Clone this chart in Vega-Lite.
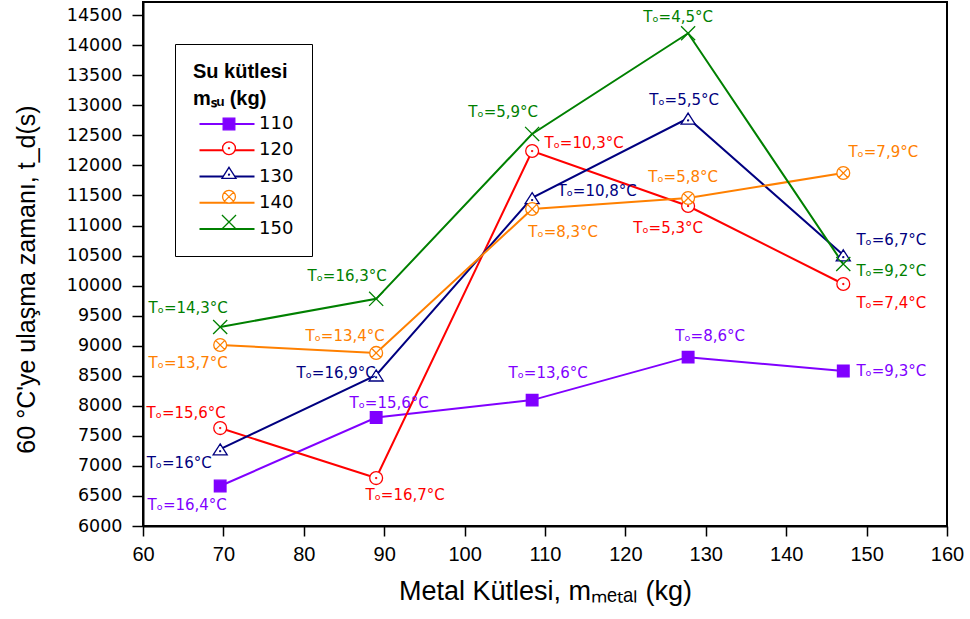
{
  "$schema": "https://vega.github.io/schema/vega-lite/v6.json",
  "width": 804,
  "height": 524,
  "autosize": {"type": "none"},
  "padding": {"left": 143, "top": 2, "right": 23, "bottom": 93},
  "background": "white",
  "config": {
    "view": {"stroke": "black", "strokeWidth": 2},
    "font": "Liberation Sans",
    "axis": {"grid": false, "domainColor": "black", "domainWidth": 2, "tickColor": "black", "tickWidth": 1.5, "labelColor": "black", "titleColor": "black", "titleFontWeight": "normal", "labelFlush": false, "labelOverlap": false}
  },
  "data": {"values": [
    {"series": "110", "m": 69.6, "t": 6665, "label": "Tₒ=16,4°C"},
    {"series": "110", "m": 89, "t": 7805, "label": "Tₒ=15,6°C"},
    {"series": "110", "m": 108.4, "t": 8095, "label": "Tₒ=13,6°C"},
    {"series": "110", "m": 127.8, "t": 8810, "label": "Tₒ=8,6°C"},
    {"series": "110", "m": 147.1, "t": 8578, "label": "Tₒ=9,3°C"},
    {"series": "120", "m": 69.6, "t": 7630, "label": "Tₒ=15,6°C"},
    {"series": "120", "m": 89, "t": 6798, "label": "Tₒ=16,7°C"},
    {"series": "120", "m": 108.4, "t": 12240, "label": "Tₒ=10,3°C"},
    {"series": "120", "m": 127.8, "t": 11325, "label": "Tₒ=5,3°C"},
    {"series": "120", "m": 147.1, "t": 10027, "label": "Tₒ=7,4°C"},
    {"series": "130", "m": 69.6, "t": 7280, "label": "Tₒ=16°C"},
    {"series": "130", "m": 89, "t": 8510, "label": "Tₒ=16,9°C"},
    {"series": "130", "m": 108.4, "t": 11460, "label": "Tₒ=10,8°C"},
    {"series": "130", "m": 127.8, "t": 12785, "label": "Tₒ=5,5°C"},
    {"series": "130", "m": 147.1, "t": 10510, "label": "Tₒ=6,7°C"},
    {"series": "140", "m": 69.6, "t": 9012, "label": "Tₒ=13,7°C"},
    {"series": "140", "m": 89, "t": 8880, "label": "Tₒ=13,4°C"},
    {"series": "140", "m": 108.4, "t": 11275, "label": "Tₒ=8,3°C"},
    {"series": "140", "m": 127.8, "t": 11458, "label": "Tₒ=5,8°C"},
    {"series": "140", "m": 147.1, "t": 11874, "label": "Tₒ=7,9°C"},
    {"series": "150", "m": 69.6, "t": 9312, "label": "Tₒ=14,3°C"},
    {"series": "150", "m": 89, "t": 9780, "label": "Tₒ=16,3°C"},
    {"series": "150", "m": 108.4, "t": 12525, "label": "Tₒ=5,9°C"},
    {"series": "150", "m": 127.8, "t": 14200, "label": "Tₒ=4,5°C"},
    {"series": "150", "m": 147.1, "t": 10360, "label": "Tₒ=9,2°C"}
  ]},
  "encoding": {
    "x": {"field": "m", "type": "quantitative",
      "scale": {"domain": [60, 160], "nice": false, "zero": false},
      "axis": {"values": [60, 70, 80, 90, 100, 110, 120, 130, 140, 150, 160], "tickSize": 10, "labelPadding": 8, "labelFont": "Liberation Sans", "labelFontSize": 20,
        "title": "Metal Kütlesi, mₘₑₜₐₗ (kg)", "titleFont": "Liberation Sans", "titleFontSize": 27, "titleX": 402, "titleY": 52, "titleAlign": "center", "titleBaseline": "top"}},
    "y": {"field": "t", "type": "quantitative",
      "scale": {"domain": [6000, 14720], "nice": false, "zero": false},
      "axis": {"values": [6000, 6500, 7000, 7500, 8000, 8500, 9000, 9500, 10000, 10500, 11000, 11500, 12000, 12500, 13000, 13500, 14000, 14500], "format": "d", "tickSize": 11, "labelPadding": 10, "labelFont": "DejaVu Sans", "labelFontSize": 17.5,
        "title": "60 °C'ye ulaşma zamanı, t_d(s)", "titleFont": "Liberation Sans", "titleFontSize": 25, "titleX": -117, "titleY": 277, "titleAngle": -90, "titleAlign": "center", "titleBaseline": "middle"}}
  },
  "layer": [
    {
      "mark": {"type": "line", "strokeWidth": 2},
      "encoding": {
        "color": {"field": "series", "type": "nominal",
          "scale": {"range": ["#8000ff", "#ff0000", "#000080", "#ff8000", "#008000"]},
          "legend": {"orient": "none", "legendX": 32, "legendY": 42,
            "title": ["Su kütlesi", "mₛᵤ (kg)"], "titleFont": "Liberation Sans", "titleFontSize": 20, "titleFontWeight": "bold", "titleColor": "black", "titleLineHeight": 27, "titlePadding": 3,
            "symbolType": "M-2.5,0H2.5", "symbolSize": 484, "symbolStrokeWidth": 2, "symbolOffset": 22,
            "labelFont": "DejaVu Sans", "labelFontSize": 18, "labelColor": "black", "labelOffset": 20,
            "rowPadding": 5.25, "padding": 18, "strokeColor": "black", "fillColor": "white"}}
      }
    },
    {
      "mark": {"type": "point", "filled": true, "size": 150, "strokeWidth": 1.3, "opacity": 1},
      "encoding": {
        "shape": {"field": "series", "type": "nominal",
          "scale": {"domain": ["110", "120", "130", "140", "150"], "range": [
            "M-0.95,-0.95H0.95V0.95H-0.95Z",
            "M1.05,0A1.05,1.05,0,1,1,-1.05,0A1.05,1.05,0,1,1,1.05,0Z M0.08,0A0.08,0.08,0,1,1,-0.08,0A0.08,0.08,0,1,1,0.08,0Z",
            "M0,-0.85L1.15,0.95L-1.15,0.95Z M0.08,0.35A0.08,0.08,0,1,1,-0.08,0.35A0.08,0.08,0,1,1,0.08,0.35Z",
            "M1.05,0A1.05,1.05,0,1,1,-1.05,0A1.05,1.05,0,1,1,1.05,0Z M-0.72,-0.72L0.72,0.72M-0.72,0.72L0.72,-0.72",
            "M-1.15,-1.15L1.15,1.15M-1.15,1.15L1.15,-1.15"]},
          "legend": {"orient": "none", "legendX": 77, "legendY": 113, "title": null, "labelExpr": "''", "labelFontSize": 18, "symbolSize": 150, "symbolStrokeWidth": 1.3, "rowPadding": 5.25, "padding": 0}},
        "stroke": {"field": "series", "type": "nominal",
          "scale": {"domain": ["110", "120", "130", "140", "150"], "range": ["#8000ff", "#ff0000", "#000080", "#ff8000", "#008000"]}},
        "fill": {"field": "series", "type": "nominal",
          "scale": {"domain": ["110", "120", "130", "140", "150"], "range": ["#8000ff", "white", "white", "white", "white"]}}
      }
    },
    {
      "mark": {"type": "text", "font": "DejaVu Sans", "fontSize": 15, "align": "center", "baseline": "middle",
        "dx": {"expr": "({'150_69.6':-32,'150_89':-29,'150_108.4':-29,'150_127.8':-10,'150_147.1':48,'140_69.6':-32,'140_89':-31,'140_108.4':31,'140_127.8':-5,'140_147.1':40,'130_69.6':-41,'130_89':-40,'130_108.4':65,'130_127.8':-4,'130_147.1':48,'120_69.6':-34,'120_89':29,'120_108.4':52,'120_127.8':-20,'120_147.1':48,'110_69.6':-33,'110_89':13,'110_108.4':16,'110_127.8':22,'110_147.1':48})[datum.series + '_' + datum.m]"},
        "dy": {"expr": "({'150_69.6':-19,'150_89':-23,'150_108.4':-22,'150_127.8':-16,'150_147.1':7,'140_69.6':18,'140_89':-17,'140_108.4':23,'140_127.8':-21,'140_147.1':-21,'130_69.6':14,'130_89':-2,'130_108.4':-7,'130_127.8':-18,'130_147.1':-15,'120_69.6':-15,'120_89':17,'120_108.4':-8,'120_127.8':22,'120_147.1':19,'110_69.6':19,'110_89':-15,'110_108.4':-27,'110_127.8':-21,'110_147.1':0})[datum.series + '_' + datum.m]"}},
      "encoding": {
        "text": {"field": "label"},
        "color": {"field": "series", "type": "nominal", "legend": null}
      }
    }
  ]
}
